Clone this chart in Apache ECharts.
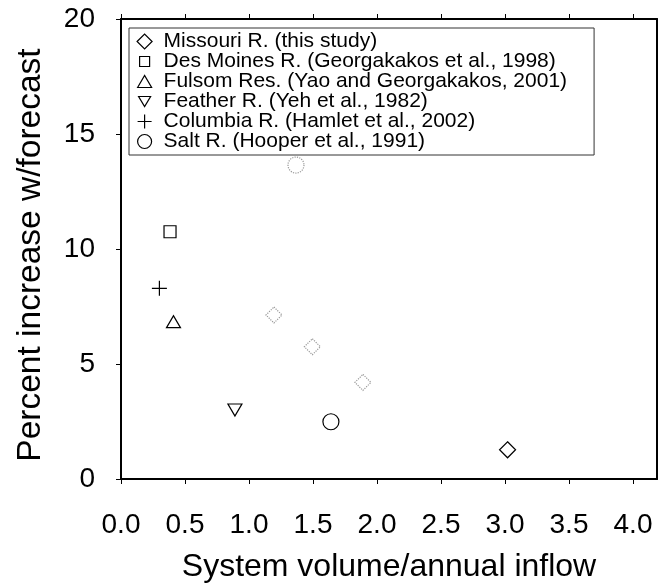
<!DOCTYPE html>
<html>
<head>
<meta charset="utf-8">
<script src="https://cdn.jsdelivr.net/npm/echarts@6/dist/echarts.min.js"></script>
<style>
  html, body { margin: 0; padding: 0; background: #fff; }
  #chart { width: 659px; height: 584px; }
</style>
</head>
<body>
<div id="chart"></div>
<script>
// Axis ticks
const xTicks = [0, 0.5, 1.0, 1.5, 2.0, 2.5, 3.0, 3.5, 4.0];
const yTicks = [0, 5, 10, 15, 20];

// Series names shown in the legend
const seriesNames = [
  'Missouri R. (this study)',
  'Des Moines R. (Georgakakos et al., 1998)',
  'Fulsom Res. (Yao and Georgakakos, 2001)',
  'Feather R. (Yeh et al., 1982)',
  'Columbia R. (Hamlet et al., 2002)',
  'Salt R. (Hooper et al., 1991)'
];

// [system volume / annual inflow, percent increase with forecast]
const missouri = [[3.02, 1.27]];
const missouriAltDiamonds = [[1.195, 7.13], [1.495, 5.75], [1.89, 4.2]];
const missouriAltCircle = [[1.367, 13.65]];
const desMoines = [[0.383, 10.75]];
const fulsom = [[0.41, 6.84]];
const feather = [[0.89, 3.0]];
const columbia = [[0.30, 8.29]];
const salt = [[1.64, 2.49]];

const FONT = '"Liberation Sans", Arial, Helvetica, sans-serif';

const solid = { color: '#fff', borderColor: '#000', borderWidth: 1.2, opacity: 1 };
const dotted = { color: 'rgba(255,255,255,0)', borderColor: '#999', borderWidth: 1.2, borderType: 'dotted', opacity: 1 };

const SYM = {
  diamond: 'diamond',
  square: 'rect',
  triangle: 'triangle',
  invTriangle: 'path://M0,0L12,0L6,10Z',
  plus: 'path://M0,6L12,6M6,0L6,12',
  circle: 'circle'
};

// Legend glyphs in a common 16x16 frame so their relative sizes are kept
const LEGEND_ICONS = [
  'path://M0,0M16,16M0.5,8L8,0.5L15.5,8L8,15.5Z',
  'path://M0,0M16,16M3,3L13,3L13,13L3,13Z',
  'path://M0,0M16,16M1,14L8,2L15,14Z',
  'path://M0,0M16,16M2,3L14,3L8,13Z',
  'path://M0,0M16,16M1,8L15,8M8,1L8,15',
  'path://M0,0M16,16M1,8A7,7 0 1 1 15,8A7,7 0 1 1 1,8Z'
];

function scatter(name, data, symbol, size, style) {
  return {
    name: name,
    type: 'scatter',
    data: data,
    symbol: symbol,
    symbolSize: size,
    itemStyle: style,
    emphasis: { disabled: true },
    z: 3
  };
}

const chart = echarts.init(document.getElementById('chart'), null, { renderer: 'canvas' });

const axisLineStyle = { show: true, onZero: false, lineStyle: { color: '#000', width: 2 } };

chart.setOption({
  animation: false,
  backgroundColor: '#fff',
  grid: { left: 121, top: 19, right: 2, bottom: 105, containLabel: false, outerBoundsMode: 'none' },
  xAxis: [
    {
      type: 'value', position: 'bottom',
      min: 0, max: 4.1875,
      axisLine: axisLineStyle,
      axisTick: { show: true, inside: false, length: 5, lineStyle: { color: '#000', width: 1 }, customValues: xTicks },
      axisLabel: {
        show: true, margin: 32, customValues: xTicks,
        formatter: v => v.toFixed(1),
        fontFamily: FONT, fontSize: 28, color: '#000'
      },
      splitLine: { show: false },
      name: 'System volume/annual inflow',
      nameLocation: 'middle', nameGap: 72,
      nameTextStyle: { fontFamily: FONT, fontSize: 32, color: '#000' }
    },
    {
      type: 'value', position: 'top',
      min: 0, max: 4.1875,
      axisLine: axisLineStyle,
      axisTick: { show: true, inside: false, length: 5, lineStyle: { color: '#000', width: 1 }, customValues: xTicks },
      axisLabel: { show: false },
      splitLine: { show: false }
    }
  ],
  yAxis: [
    {
      type: 'value', position: 'left',
      min: 0, max: 20, interval: 5,
      axisLine: axisLineStyle,
      axisTick: { show: true, inside: false, length: 5, lineStyle: { color: '#000', width: 1 }, customValues: yTicks },
      axisLabel: {
        show: true, margin: 26, customValues: yTicks,
        fontFamily: FONT, fontSize: 28, color: '#000'
      },
      splitLine: { show: false },
      name: 'Percent increase w/forecast',
      nameLocation: 'middle', nameGap: 73,
      nameTextStyle: { fontFamily: FONT, fontSize: 33.5, color: '#000', padding: [0, 12, 0, 0] }
    },
    {
      type: 'value', position: 'right',
      min: 0, max: 20,
      axisLine: axisLineStyle,
      axisTick: { show: false },
      axisLabel: { show: false },
      splitLine: { show: false }
    }
  ],
  legend: {
    show: true,
    orient: 'vertical',
    left: 129, top: 28,
    padding: [3, 27, 3, 7],
    itemWidth: 28, itemHeight: 16, itemGap: -1,
    borderColor: '#333', borderWidth: 1,
    backgroundColor: '#fff',
    selectedMode: false,
    textStyle: { fontFamily: FONT, fontSize: 21, color: '#000' },
    data: seriesNames.map((n, i) => ({ name: n, icon: LEGEND_ICONS[i], itemStyle: solid }))
  },
  series: [
    scatter(seriesNames[0], missouri, SYM.diamond, 16, solid),
    scatter(seriesNames[1], desMoines, SYM.square, 12, solid),
    scatter(seriesNames[2], fulsom, SYM.triangle, [14, 12], solid),
    scatter(seriesNames[3], feather, SYM.invTriangle, [14, 12], solid),
    scatter(seriesNames[4], columbia, SYM.plus, 15, solid),
    scatter(seriesNames[5], salt, SYM.circle, 16, solid),
    scatter('Missouri R. alternatives', missouriAltDiamonds, SYM.diamond, 16, dotted),
    scatter('Missouri R. alternative', missouriAltCircle, SYM.circle, 16, dotted)
  ]
});
</script>
</body>
</html>
